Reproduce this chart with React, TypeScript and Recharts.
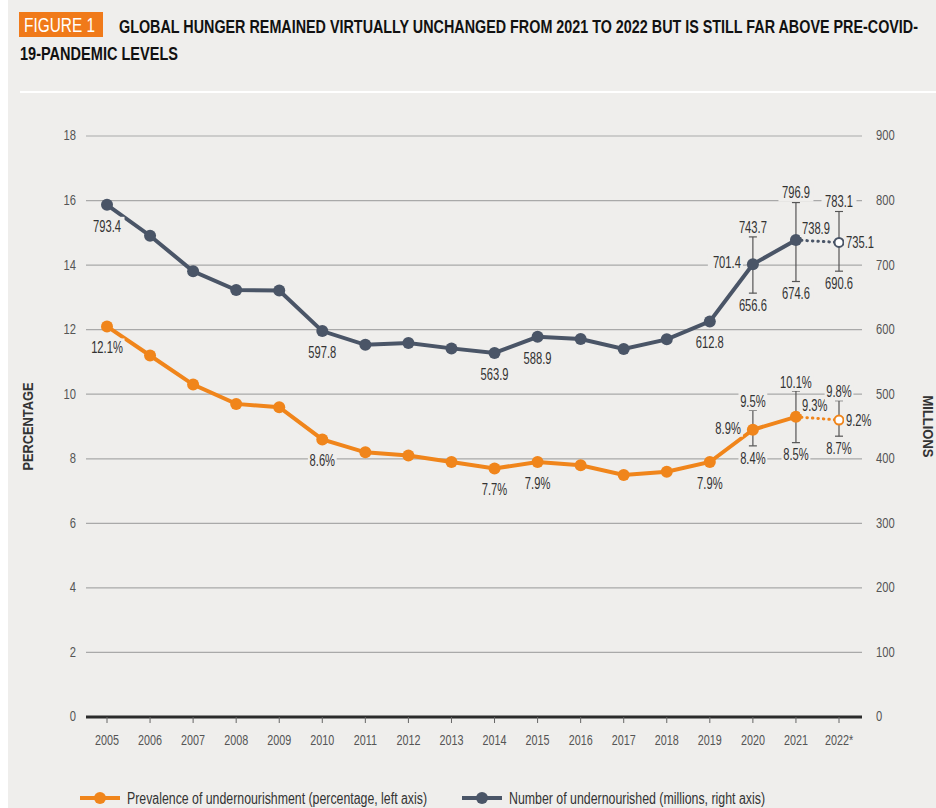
import { ComposedChart, Line, XAxis, YAxis, CartesianGrid, ErrorBar, LabelList, Legend } from "recharts";

const years = ["2005", "2006", "2007", "2008", "2009", "2010", "2011", "2012", "2013", "2014", "2015", "2016", "2017", "2018", "2019", "2020", "2021", "2022*"];

// last value (2022*) is the projection
const prevalence = [12.1, 11.2, 10.3, 9.7, 9.6, 8.6, 8.2, 8.1, 7.9, 7.7, 7.9, 7.8, 7.5, 7.6, 7.9, 8.9, 9.3, 9.2];
const undernourished = [793.4, 745.5, 690.5, 661.5, 660.6, 597.8, 576.5, 579.5, 571.0, 563.9, 588.9, 585.5, 570.0, 585.0, 612.8, 701.4, 738.9, 735.1];

const rangeYears = ["2020", "2021", "2022*"];
const prevalenceLow = [8.4, 8.5, 8.7];
const prevalenceHigh = [9.5, 10.1, 9.8];
const undernourishedLow = [656.6, 674.6, 690.6];
const undernourishedHigh = [743.7, 796.9, 783.1];

const pctTicks = [0, 2, 4, 6, 8, 10, 12, 14, 16, 18];
const milTicks = [0, 100, 200, 300, 400, 500, 600, 700, 800, 900];

const ORANGE = "#f0851b";
const NAVY = "#4a5567";
const BG = "#efeeec";
const TEXT = "#333";
const TICK = "#555";
const FONT = "'Liberation Sans', Arial, sans-serif";

const lastActual = years.length - 2;

const rows = years.map((year, i) => {
  const r = rangeYears.indexOf(year);
  return {
    year,
    pct: i <= lastActual ? prevalence[i] : undefined,
    pctProj: i >= lastActual ? prevalence[i] : undefined,
    mil: i <= lastActual ? undernourished[i] : undefined,
    milProj: i >= lastActual ? undernourished[i] : undefined,
    pctMid: r >= 0 ? prevalence[i] : undefined,
    pctErr: r >= 0 ? [prevalence[i] - prevalenceLow[r], prevalenceHigh[r] - prevalence[i]] : undefined,
    pctLow: r >= 0 ? prevalenceLow[r] : undefined,
    pctHigh: r >= 0 ? prevalenceHigh[r] : undefined,
    milMid: r >= 0 ? undernourished[i] : undefined,
    milErr: r >= 0 ? [undernourished[i] - undernourishedLow[r], undernourishedHigh[r] - undernourished[i]] : undefined,
    milLow: r >= 0 ? undernourishedLow[r] : undefined,
    milHigh: r >= 0 ? undernourishedHigh[r] : undefined,
  };
});

// where the value labels go, per year
const pointLabelPos: Record<string, string> = {
  "2005": "below", "2010": "below", "2014": "below", "2015": "below", "2019": "below",
  "2020": "left", "2021": "upright",
};
const projLabelPos: Record<string, string> = { "2022*": "right" };

// squeezed text, stand-in for the condensed face of the original
function CText({ x, y, children, anchor = "middle", size = 16, fill = TEXT, weight = 400, scale = 0.7 }: any) {
  return (
    <g transform={`translate(${x},${y}) scale(${scale},1)`}>
      <text x={0} y={0} textAnchor={anchor} dominantBaseline="central" fontSize={size} fontWeight={weight} fill={fill} fontFamily={FONT}>
        {children}
      </text>
    </g>
  );
}

// squeezed text fitted to an exact width
function FitText({ x, y, width, scale, children, size, weight = 400, fill = TEXT }: any) {
  return (
    <g transform={`translate(${x},${y}) scale(${scale},1)`}>
      <text x={0} y={0} dominantBaseline="central" fontSize={size} fontWeight={weight} fill={fill} fontFamily={FONT} textLength={width / scale} lengthAdjust="spacingAndGlyphs">
        {children}
      </text>
    </g>
  );
}

function boxedText(x: number, y: number, text: string, anchor: "start" | "middle" | "end") {
  const w = text.length * 6.2 + 4;
  const left = anchor === "start" ? x - 2 : anchor === "end" ? x - w + 2 : x - w / 2;
  return (
    <g>
      <rect x={left} y={y - 9} width={w} height={18} fill={BG} />
      <CText x={x} y={y} anchor={anchor}>{text}</CText>
    </g>
  );
}

const pointLabel = (placement: Record<string, string>, fmt: (v: number) => string) => (props: any) => {
  const { x, y, value, index } = props;
  const pos = placement[rows[index]?.year];
  if (value == null || !pos) return null;
  const t = fmt(value);
  if (pos === "below") return boxedText(x, y + 21, t, "middle");
  if (pos === "left") return boxedText(x - 12, y - 2, t, "end");
  if (pos === "upright") return boxedText(x + 6, y - 12, t, "start");
  return boxedText(x + 7, y, t, "start");
};

const endLabel = (dy: number, fmt: (v: number) => string) => (props: any) => {
  const { x, y, value } = props;
  if (value == null) return null;
  return boxedText(x, y + dy, fmt(value), "middle");
};

const fmtPct = (v: number) => `${v.toFixed(1)}%`;
const fmtMil = (v: number) => v.toFixed(1);

const projDot = (color: string) => (props: any) => {
  const { cx, cy, index } = props;
  if (index !== years.length - 1 || cy == null) return <g key={`d${index}`} />;
  return <circle key={`d${index}`} cx={cx} cy={cy} r={4.5} fill="#fff" stroke={color} strokeWidth={2} />;
};

const yearTick = (p: any) => (
  <CText x={p.x} y={p.y + 7} size={15} scale={0.72} fill={TICK}>{p.payload.value}</CText>
);
const valueTick = (p: any) => (
  <CText x={p.x} y={p.y} anchor={p.textAnchor} size={14} scale={0.8} fill={TICK}>{p.payload.value}</CText>
);

function LegendContent() {
  const item = (lx: number, color: string, label: string, len: number) => (
    <>
      <line x1={lx} y1={10} x2={lx + 40} y2={10} stroke={color} strokeWidth={4} />
      <circle cx={lx + 20} cy={10} r={6} fill={color} />
      <FitText x={lx + 47} y={10} width={len} scale={0.75} size={16}>{label}</FitText>
    </>
  );
  return (
    <svg width={936} height={20} style={{ display: "block" }}>
      {item(80, ORANGE, "Prevalence of undernourishment (percentage, left axis)", 300)}
      {item(462, NAVY, "Number of undernourished (millions, right axis)", 256)}
    </svg>
  );
}

const axisTitle = (text: string, x: number, angle: number, len: number) => (p: any) => {
  const vb = p.viewBox || {};
  const cy = (vb.y ?? 46) + (vb.height ?? 581) / 2;
  return (
    <text x={x} y={cy} transform={`rotate(${angle} ${x} ${cy})`} textAnchor="middle" dominantBaseline="central" fontSize={15} fontWeight={700} fill={TEXT} fontFamily={FONT} textLength={len} lengthAdjust="spacingAndGlyphs">
      {text}
    </text>
  );
};

export default function App() {
  return (
    <div style={{ position: "absolute", left: 0, top: 0, width: 936, height: 808, background: "#fff", overflow: "hidden" }}>
      <div style={{ position: "absolute", left: 8, top: 0, width: 928, height: 808, background: BG }} />
      <div style={{ position: "absolute", left: 20, top: 91, width: 916, height: 2, background: "#fff" }} />
      <svg width={936} height={90} style={{ position: "absolute", left: 0, top: 0 }}>
        <rect x={19} y={12} width={84} height={25} fill="#f07a1a" />
        <FitText x={24} y={25} width={71} scale={0.8} size={20} fill="#fff">FIGURE 1</FitText>
        <FitText x={119} y={27} width={799} scale={0.755} size={19} weight={700} fill="#111">
          GLOBAL HUNGER REMAINED VIRTUALLY UNCHANGED FROM 2021 TO 2022 BUT IS STILL FAR ABOVE PRE-COVID-
        </FitText>
        <FitText x={20} y={54} width={158} scale={0.755} size={19} weight={700} fill="#111">
          19-PANDEMIC LEVELS
        </FitText>
      </svg>
      <div style={{ position: "absolute", left: 0, top: 90 }}>
        <ComposedChart width={936} height={718} data={rows} margin={{ top: 46, right: 0, bottom: 0, left: 0 }}>
          <CartesianGrid yAxisId="left" vertical={false} stroke="#a9a9a9" strokeWidth={1.2} />
          <XAxis
            dataKey="year"
            scale="point"
            padding={{ left: 21, right: 23 }}
            height={71}
            axisLine={{ stroke: "#2b2b2b", strokeWidth: 3 }}
            tickLine={{ stroke: "#666" }}
            tickSize={6}
            tickMargin={10}
            interval={0}
            tick={yearTick}
          />
          <YAxis
            yAxisId="left"
            domain={[0, 18]}
            ticks={pctTicks}
            width={86}
            axisLine={false}
            tickLine={false}
            tickMargin={4}
            tick={valueTick}
            label={{ content: axisTitle("PERCENTAGE", 27, -90, 88) }}
          />
          <YAxis
            yAxisId="right"
            orientation="right"
            domain={[0, 900]}
            ticks={milTicks}
            width={74}
            axisLine={false}
            tickLine={false}
            tickMargin={8}
            tick={valueTick}
            label={{ content: axisTitle("MILLIONS", 928, 90, 62) }}
          />
          <Legend verticalAlign="bottom" content={() => <LegendContent />} />

          {/* error bars */}
          <Line yAxisId="right" dataKey="milMid" stroke="none" dot={false} activeDot={false} legendType="none" isAnimationActive={false}>
            <ErrorBar dataKey="milErr" width={4} stroke="#555" strokeWidth={1.2} direction="y" />
          </Line>
          <Line yAxisId="left" dataKey="pctMid" stroke="none" dot={false} activeDot={false} legendType="none" isAnimationActive={false}>
            <ErrorBar dataKey="pctErr" width={4} stroke="#555" strokeWidth={1.2} direction="y" />
          </Line>

          {/* projections */}
          <Line yAxisId="right" dataKey="milProj" stroke={NAVY} strokeWidth={3} strokeDasharray="0.5 5" strokeLinecap="round" dot={projDot(NAVY)} activeDot={false} legendType="none" isAnimationActive={false}>
            <LabelList dataKey="milProj" content={pointLabel(projLabelPos, fmtMil)} />
          </Line>
          <Line yAxisId="left" dataKey="pctProj" stroke={ORANGE} strokeWidth={3} strokeDasharray="0.5 5" strokeLinecap="round" dot={projDot(ORANGE)} activeDot={false} legendType="none" isAnimationActive={false}>
            <LabelList dataKey="pctProj" content={pointLabel(projLabelPos, fmtPct)} />
          </Line>

          {/* main series */}
          <Line yAxisId="right" dataKey="mil" stroke={NAVY} strokeWidth={4} dot={{ r: 6, fill: NAVY, stroke: NAVY, strokeWidth: 0 }} activeDot={false} isAnimationActive={false}>
            <LabelList dataKey="mil" content={pointLabel(pointLabelPos, fmtMil)} />
          </Line>
          <Line yAxisId="left" dataKey="pct" stroke={ORANGE} strokeWidth={4} dot={{ r: 6, fill: ORANGE, stroke: ORANGE, strokeWidth: 0 }} activeDot={false} isAnimationActive={false}>
            <LabelList dataKey="pct" content={pointLabel(pointLabelPos, fmtPct)} />
          </Line>

          {/* range end labels */}
          <Line yAxisId="right" dataKey="milHigh" stroke="none" dot={false} activeDot={false} legendType="none" isAnimationActive={false}>
            <LabelList dataKey="milHigh" content={endLabel(-10, fmtMil)} />
          </Line>
          <Line yAxisId="right" dataKey="milLow" stroke="none" dot={false} activeDot={false} legendType="none" isAnimationActive={false}>
            <LabelList dataKey="milLow" content={endLabel(12, fmtMil)} />
          </Line>
          <Line yAxisId="left" dataKey="pctHigh" stroke="none" dot={false} activeDot={false} legendType="none" isAnimationActive={false}>
            <LabelList dataKey="pctHigh" content={endLabel(-9, fmtPct)} />
          </Line>
          <Line yAxisId="left" dataKey="pctLow" stroke="none" dot={false} activeDot={false} legendType="none" isAnimationActive={false}>
            <LabelList dataKey="pctLow" content={endLabel(12, fmtPct)} />
          </Line>
        </ComposedChart>
      </div>
    </div>
  );
}
